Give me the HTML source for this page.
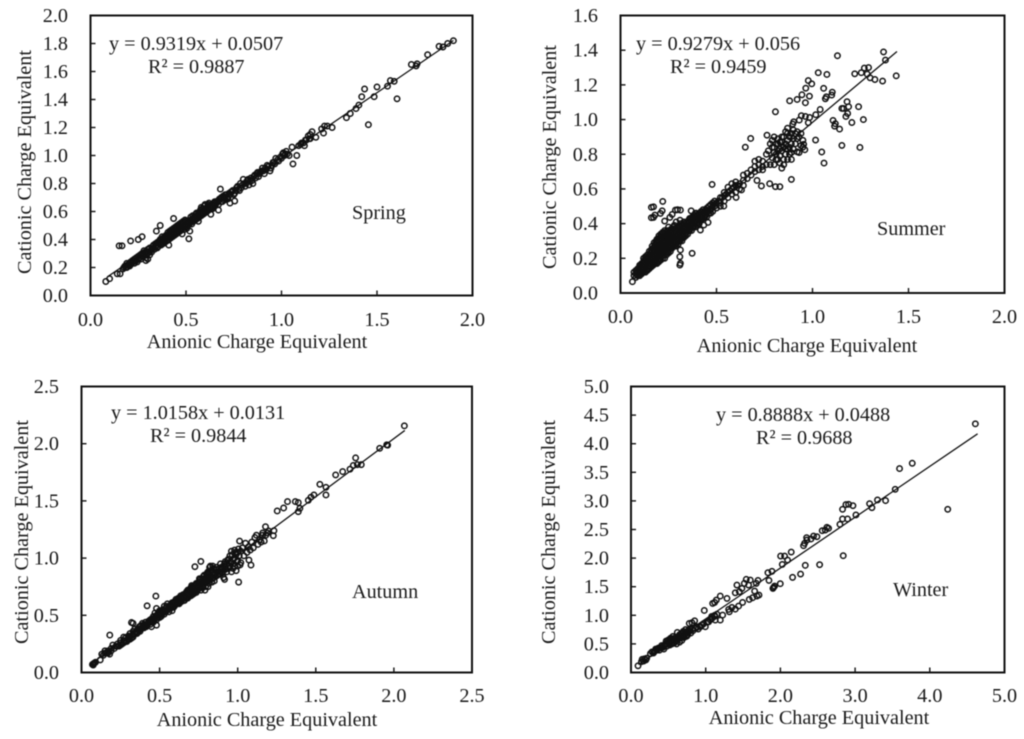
<!DOCTYPE html>
<html lang="en">
<head>
<meta charset="utf-8">
<title>Cationic vs Anionic Charge Equivalent by Season</title>
<style>
html,body{margin:0;padding:0;background:#fff}
svg{display:block;filter:blur(.4px)}
text{font-family:"Liberation Serif","Times New Roman",serif;font-size:20.2px;fill:#1a1a1a}
</style>
</head>
<body>
<svg id="figure" xmlns="http://www.w3.org/2000/svg" width="1024" height="739" viewBox="0 0 1024 739">
<rect x="0" y="0" width="1024" height="739" fill="#fff"/>
<g id="panel-spring">
<text x="257" y="348" text-anchor="middle">Anionic Charge Equivalent</text>
<text transform="translate(31,162) rotate(-90)" text-anchor="middle">Cationic Charge Equivalent</text>
<text x="109" y="50">y = 0.9319x + 0.0507</text>
<text x="148" y="73">R² = 0.9887</text>
<text x="352" y="219">Spring</text>
</g>
<g id="panel-summer">
<text x="807" y="352" text-anchor="middle">Anionic Charge Equivalent</text>
<text transform="translate(556,157) rotate(-90)" text-anchor="middle">Cationic Charge Equivalent</text>
<text x="636" y="50">y = 0.9279x + 0.056</text>
<text x="670" y="73">R² = 0.9459</text>
<text x="877" y="235">Summer</text>
</g>
<g id="panel-autumn">
<text x="267" y="726" text-anchor="middle">Anionic Charge Equivalent</text>
<text transform="translate(28,532) rotate(-90)" text-anchor="middle">Cationic Charge Equivalent</text>
<text x="111" y="419">y = 1.0158x + 0.0131</text>
<text x="150" y="442">R² = 0.9844</text>
<text x="352" y="598">Autumn</text>
</g>
<g id="panel-winter">
<text x="819" y="724" text-anchor="middle">Anionic Charge Equivalent</text>
<text transform="translate(555,532) rotate(-90)" text-anchor="middle">Cationic Charge Equivalent</text>
<text x="716" y="421">y = 0.8888x + 0.0488</text>
<text x="756" y="444">R² = 0.9688</text>
<text x="893" y="596">Winter</text>
</g>
</svg>
<script>
const springXTicks = ["0.0","0.5","1.0","1.5","2.0"];
const springYTicks = ["0.0","0.2","0.4","0.6","0.8","1.0","1.2","1.4","1.6","1.8","2.0"];
const springFit = [0.9319, 0.0507];
const springFitX = [0.09, 1.9];
const springPoints = [
[.08,.1],[.1,.12],[.14,.155],[.155,.155],[.15,.355],[.165,.355],[.21,.39],[.25,.4],[.27,.42],[.345,.46],[.365,.5],[.435,.55],[.515,.405],[.68,.76],[.67,.61],[.755,.675],[1.06,.94],[1.08,1],[1.055,1.06],[1.34,1.27],[1.36,1.3],[1.39,1.335],[1.405,1.36],[1.42,1.42],[1.435,1.475],[1.455,1.22],[1.485,1.42],[1.5,1.49],[1.555,1.495],[1.57,1.535],[1.59,1.53],[1.605,1.405],[1.68,1.65],[1.705,1.64],[1.71,1.655],[1.765,1.72],[1.825,1.78],[1.845,1.775],[1.87,1.8],[1.9,1.82],
[.17,.19],[.18,.21],[.19,.2],[.19,.23],[.2,.22],[.21,.24],[.21,.22],[.22,.25],[.23,.23],[.23,.26],[.24,.27],[.24,.25],[.25,.28],[.25,.26],[.26,.29],[.26,.27],[.27,.3],[.27,.28],[.28,.32],[.28,.3],[.29,.27],[.29,.25],[.3,.26],[.29,.31],[.3,.33],[.3,.3],[.31,.29],[.31,.34],[.32,.33],[.32,.31],[.33,.36],[.33,.34],[.34,.35],[.34,.37],[.35,.34],[.35,.38],[.35,.36],[.36,.39],[.36,.37],[.37,.38],[.37,.36],[.37,.4],[.38,.39],[.38,.41],[.38,.37],[.39,.42],[.39,.4],[.39,.38],[.4,.41],[.4,.43],[.4,.39],[.41,.36],[.41,.42],[.41,.44],[.41,.4],[.42,.43],[.42,.45],[.42,.41],[.43,.44],[.43,.46],[.43,.42],[.44,.45],[.44,.47],[.44,.43],[.45,.48],[.45,.46],[.45,.44],[.46,.47],[.46,.49],[.46,.45],[.47,.5],[.47,.48],[.47,.46],[.48,.49],[.48,.51],[.48,.44],[.49,.5],[.49,.52],[.49,.47],[.5,.51],[.5,.53],[.5,.49],[.51,.52],[.51,.5],[.52,.53],[.52,.46],[.53,.54],[.53,.51],[.54,.55],[.54,.53],[.55,.56],[.55,.54],[.55,.58],[.56,.57],[.56,.55],[.57,.59],[.57,.56],[.58,.6],[.58,.57],[.58,.63],[.59,.6],[.59,.58],[.6,.62],[.6,.59],[.6,.65],[.61,.63],[.61,.6],[.62,.64],[.62,.61],[.62,.66],[.63,.58],[.63,.63],[.64,.65],[.64,.62],[.65,.67],[.65,.64],[.66,.66],[.67,.68],[.67,.65],[.68,.69],[.69,.67],[.7,.7],[.7,.68],[.71,.72],[.72,.69],[.73,.72],[.73,.66],[.74,.74],[.75,.72],[.76,.75],[.77,.78],[.78,.75],[.79,.77],[.8,.83],[.81,.78],[.82,.82],[.83,.79],[.84,.84],[.85,.8],[.86,.86],[.87,.87],[.88,.85],[.89,.88],[.9,.91],[.91,.87],[.92,.9],[.93,.92],[.94,.89],[.95,.93],[.96,.95],[.97,.98],[.98,.97],[1,.98],[1.01,1.02],[1.02,1.01],[1.03,1.01],[1.04,1],[1.09,1.07],[1.1,1.08],[1.12,1.07],[1.13,1.11],[1.14,1.14],[1.15,1.12],[1.16,1.17],[1.18,1.13],[1.21,1.19],[1.22,1.16],[1.225,1.21],[1.24,1.21],[1.265,1.2],
[.175,.2],[.185,.2],[.195,.22],[.205,.21],[.215,.23],[.225,.24],[.235,.25],[.245,.24],[.255,.27],[.265,.26],[.275,.29],[.285,.31],[.295,.29],[.305,.31],[.315,.32],[.325,.35],[.335,.33],[.345,.36],[.355,.35],[.355,.38],[.365,.38],[.365,.4],[.375,.37],[.375,.42],[.385,.4],[.385,.38],[.395,.41],[.395,.43],[.405,.42],[.405,.4],[.405,.45],[.415,.43],[.415,.41],[.415,.46],[.425,.44],[.425,.42],[.425,.47],[.435,.45],[.435,.43],[.435,.48],[.445,.46],[.445,.44],[.445,.49],[.455,.47],[.455,.45],[.455,.5],[.465,.48],[.465,.46],[.465,.51],[.475,.49],[.475,.47],[.475,.52],[.485,.5],[.485,.48],[.485,.53],[.495,.51],[.495,.49],[.495,.54],[.505,.52],[.505,.5],[.505,.48],[.515,.53],[.515,.51],[.525,.54],[.525,.52],[.525,.56],[.535,.55],[.535,.53],[.535,.57],[.545,.56],[.545,.54],[.555,.57],[.555,.55],[.555,.59],[.565,.58],[.565,.56],[.565,.53],[.575,.59],[.575,.57],[.575,.61],[.585,.6],[.585,.58],[.585,.62],[.595,.61],[.595,.59],[.595,.64],[.605,.62],[.605,.6],[.615,.63],[.615,.65],[.625,.64],[.625,.62],[.635,.65],[.635,.62],[.645,.66],[.645,.63],[.655,.67],[.655,.65],[.665,.67],[.675,.69],[.685,.7],[.685,.67],[.695,.71],[.705,.72],[.705,.69],[.715,.7],[.725,.73],[.735,.74],[.745,.75],[.755,.73],[.765,.77],[.775,.76],[.785,.8],[.795,.79],[.805,.8],[.815,.8],[.825,.83],[.835,.82],[.845,.82],[.855,.85],[.865,.84],[.875,.88],[.885,.87],[.895,.89],[.905,.89],[.915,.91],[.925,.93],[.945,.91],[.955,.95],[.965,.94],[.985,.96],[.995,.99],[1.005,1.01],[1.015,1],[1.025,1.03],[1.105,1.09],[1.115,1.09],[1.125,1.11],[1.145,1.12],[1.15,1.15]
];

const summerXTicks = ["0.0","0.5","1.0","1.5","2.0"];
const summerYTicks = ["0.0","0.2","0.4","0.6","0.8","1.0","1.2","1.4","1.6"];
const summerFit = [0.9279, 0.056];
const summerFitX = [0.07, 1.44];
const summerPoints = [
[.062,.065],[1.37,1.39],[1.38,1.343],[1.13,1.368],[1.436,1.252],[1.365,1.222],[1.325,1.231],[1.3,1.241],[1.292,1.3],[1.27,1.297],[1.285,1.262],[1.254,1.27],[1.22,1.264],[1.03,1.27],[1.075,1.26],[.978,1.225],[.996,1.206],[.965,1.181],[1.058,1.18],[.945,1.143],[.984,1.135],[.92,1.116],[.881,1.108],[.963,1.097],[1.103,1.158],[1.1,1.141],[1.072,1.131],[1.067,1.12],[1.04,1.058],[1.017,1.028],[.807,1.045],[.942,1.022],[.963,1.018],[.985,1.012],[.931,.997],[.978,.982],[.902,.987],[.897,.974],[1.107,.995],[1.119,.976],[1.115,.962],[1.141,.945],[1.18,1.103],[1.188,1.074],[1.153,1.064],[1.162,1.064],[1.183,1.035],[1.174,1.018],[1.24,1.074],[1.205,.983],[1.265,1],[1.247,.839],[1.153,.851],[1.016,.882],[1.048,.813],[1.06,.749],[.954,.857],[.95,.841],[.96,.826],[.92,.814],[.89,.655],[.83,.613],[.807,.613],[.777,.63],[.734,.617],[.711,.649],[.477,.626],[.65,.841],[.678,.891],[.763,.91],
[.161,.494],[.172,.497],[.161,.434],[.172,.436],[.179,.449],[.208,.459],[.217,.474],[.22,.528],[.23,.415],[.257,.436],[.269,.453],[.286,.478],[.297,.48],[.312,.478],[.312,.248],[.309,.209],[.312,.171],[.309,.161],[.373,.229],[.416,.363],[.434,.392],[.456,.407],[.368,.474],[.538,.501],[.602,.551],[.63,.594],
[.07,.1],[.07,.12],[.08,.09],[.08,.11],[.08,.13],[.09,.1],[.09,.12],[.09,.14],[.1,.1],[.1,.12],[.1,.14],[.1,.16],[.11,.11],[.11,.13],[.11,.15],[.11,.17],[.12,.12],[.12,.14],[.12,.16],[.12,.18],[.12,.2],[.13,.12],[.13,.15],[.13,.17],[.13,.19],[.13,.21],[.14,.13],[.14,.15],[.14,.18],[.14,.2],[.14,.22],[.15,.14],[.15,.16],[.15,.19],[.15,.21],[.15,.24],[.16,.15],[.16,.17],[.16,.2],[.16,.22],[.16,.25],[.17,.16],[.17,.18],[.17,.21],[.17,.23],[.17,.26],[.18,.17],[.18,.2],[.18,.22],[.18,.25],[.18,.28],[.19,.17],[.19,.2],[.19,.23],[.19,.26],[.19,.29],[.19,.31],[.2,.18],[.2,.21],[.2,.24],[.2,.27],[.2,.3],[.2,.33],[.21,.19],[.21,.22],[.21,.25],[.21,.28],[.21,.31],[.21,.34],[.22,.2],[.22,.23],[.22,.26],[.22,.29],[.22,.32],[.22,.35],[.23,.2],[.23,.24],[.23,.27],[.23,.3],[.23,.33],[.23,.36],[.24,.22],[.24,.25],[.24,.28],[.24,.31],[.24,.34],[.25,.23],[.25,.26],[.25,.29],[.25,.32],[.25,.35],[.25,.38],[.26,.24],[.26,.27],[.26,.3],[.26,.33],[.26,.36],[.27,.26],[.27,.28],[.27,.31],[.27,.34],[.27,.37],[.28,.27],[.28,.3],[.28,.33],[.28,.36],[.28,.39],[.29,.27],[.29,.3],[.29,.33],[.29,.36],[.29,.41],[.3,.28],[.3,.31],[.3,.34],[.3,.37],[.31,.3],[.31,.32],[.31,.35],[.31,.38],[.31,.42],[.32,.3],[.32,.33],[.32,.36],[.32,.39],[.33,.32],[.33,.35],[.33,.38],[.33,.41],[.34,.33],[.34,.36],[.34,.39],[.35,.34],[.35,.37],[.35,.4],[.36,.36],[.36,.38],[.36,.41],[.36,.43],[.37,.36],[.37,.39],[.37,.42],[.38,.38],[.38,.4],[.38,.43],[.39,.38],[.39,.41],[.39,.44],[.39,.46],[.4,.39],[.4,.42],[.4,.45],[.41,.4],[.41,.43],[.41,.46],[.42,.42],[.42,.44],[.42,.47],[.43,.43],[.43,.46],[.43,.48],[.44,.44],[.44,.47],[.45,.44],[.45,.46],[.45,.49],[.46,.46],[.46,.5],[.47,.46],[.47,.48],[.47,.51],[.48,.47],[.48,.5],[.48,.52],[.49,.5],[.49,.53],[.5,.49],[.5,.52],[.52,.52],[.52,.55],[.52,.5],[.54,.53],[.54,.56],[.54,.58],[.56,.55],[.56,.58],[.56,.61],[.58,.57],[.58,.6],[.58,.63],[.6,.58],[.6,.62],[.6,.64],[.62,.6],[.62,.63],[.64,.62],[.64,.65],[.64,.68],[.66,.66],[.66,.69],[.68,.68],[.68,.71],[.7,.7],[.7,.73],[.7,.76],[.72,.71],[.72,.74],[.72,.77],[.74,.73],[.74,.76],[.74,.71],[.76,.74],[.76,.8],
[.77,.82],[.78,.74],[.78,.86],[.79,.78],[.79,.88],[.8,.74],[.8,.81],[.8,.84],[.81,.77],[.81,.8],[.82,.86],[.82,.89],[.83,.75],[.83,.79],[.83,.83],[.84,.72],[.84,.82],[.84,.87],[.84,.9],[.85,.77],[.85,.84],[.86,.8],[.86,.86],[.86,.93],[.87,.77],[.87,.83],[.87,.88],[.87,.92],[.88,.84],[.88,.9],[.89,.81],[.89,.86],[.9,.83],[.9,.89],[.91,.92],[.92,.89],[.92,.93],[.93,.81],[.94,.85],
[.085,.12],[.095,.11],[.095,.13],[.105,.115],[.105,.135],[.105,.155],[.115,.12],[.115,.14],[.115,.16],[.125,.13],[.125,.15],[.125,.17],[.125,.19],[.135,.13],[.135,.16],[.135,.18],[.135,.2],[.145,.14],[.145,.17],[.145,.19],[.145,.21],[.155,.15],[.155,.18],[.155,.2],[.155,.23],[.165,.16],[.165,.19],[.165,.21],[.165,.24],[.165,.27],[.175,.17],[.175,.2],[.175,.23],[.175,.26],[.175,.29],[.185,.18],[.185,.21],[.185,.24],[.185,.27],[.185,.3],[.195,.19],[.195,.22],[.195,.25],[.195,.28],[.195,.31],[.205,.2],[.205,.23],[.205,.26],[.205,.29],[.205,.32],[.215,.21],[.215,.24],[.215,.27],[.215,.3],[.215,.33],[.225,.22],[.225,.25],[.225,.28],[.225,.31],[.225,.34],[.235,.23],[.235,.26],[.235,.29],[.235,.32],[.235,.35],[.245,.24],[.245,.27],[.245,.3],[.245,.33],[.245,.36],[.255,.25],[.255,.28],[.255,.31],[.255,.34],[.265,.26],[.265,.29],[.265,.32],[.265,.35],[.265,.37],[.275,.27],[.275,.3],[.275,.32],[.275,.35],[.275,.38],[.285,.28],[.285,.31],[.285,.34],[.285,.37],[.295,.29],[.295,.32],[.295,.35],[.295,.38],[.305,.3],[.305,.33],[.305,.36],[.305,.39],[.315,.31],[.315,.34],[.315,.37],[.315,.4],[.325,.32],[.325,.35],[.325,.38],[.335,.34],[.335,.37],[.335,.4],[.345,.35],[.345,.38],[.345,.41],[.355,.36],[.355,.39],[.355,.42],[.365,.37],[.365,.4],[.365,.43],[.375,.38],[.375,.41],[.375,.44],[.385,.39],[.385,.42],[.385,.45],[.395,.4],[.395,.43],[.395,.46],[.405,.41],[.405,.44],[.415,.42],[.415,.45],[.425,.43],[.425,.46],[.435,.44],[.435,.47],[.445,.45],[.445,.48],[.455,.47],[.465,.48],[.475,.49],[.485,.51],[.51,.53],[.53,.55],[.55,.57],[.57,.59],[.59,.61],[.61,.62],
[.79,.84],[.8,.9],[.81,.86],[.82,.77],[.82,.82],[.83,.87],[.85,.9],[.85,.74],[.86,.83],[.88,.8],[.89,.92],[.89,.77],[.91,.86],[.93,.9],[.94,.92],[.95,.88],[.9,.94],[.87,.95]
];

const autumnXTicks = ["0.0","0.5","1.0","1.5","2.0","2.5"];
const autumnYTicks = ["0.0","0.5","1.0","1.5","2.0","2.5"];
const autumnFit = [1.0158, 0.0131];
const autumnFitX = [0.07, 2.07];
const autumnPoints = [
[2.067,2.156],[1.96,1.987],[1.954,1.99],[1.909,1.96],[1.755,1.876],[1.791,1.817],[1.766,1.817],[1.74,1.81],[1.719,1.777],[1.672,1.756],[1.627,1.727],[1.526,1.645],[1.565,1.619],[1.565,1.552],[1.488,1.552],[1.469,1.532],[1.452,1.505],[1.398,1.435],[1.388,1.406],[1.388,1.485],[1.369,1.494],[1.319,1.494],[1.294,1.438],[1.253,1.412],[1.232,1.24],[1.178,1.275],[1.228,1.196],[1.198,1.237],[1.18,1.2],[1.16,1.2],[1.012,1.149],[1.006,.79],[1.085,.939],[1.072,.983],[.764,.971],[.726,.925],[.476,.668],[.42,.583],[.181,.327],[.32,.437],[.33,.43],[.48,.414],[.448,.4],[.916,.814],
[.07,.07],[.075,.065],[.08,.08],[.09,.09],[.12,.11],[.13,.16],[.14,.15],[.15,.19],[.16,.17],[.17,.19],[.18,.16],[.19,.21],[.2,.24],[.21,.21],[.22,.23],[.23,.25],[.24,.23],[.25,.26],[.25,.28],[.26,.25],[.27,.31],[.27,.28],[.28,.3],[.29,.27],[.3,.32],[.3,.29],[.31,.34],[.31,.31],[.32,.3],[.33,.36],[.33,.33],[.34,.34],[.34,.38],[.35,.36],[.36,.38],[.36,.35],[.37,.4],[.37,.37],[.38,.41],[.38,.38],[.39,.4],[.39,.43],[.4,.42],[.4,.39],[.41,.44],[.41,.42],[.42,.41],[.43,.45],[.43,.43],[.44,.46],[.44,.42],[.45,.47],[.45,.45],[.46,.44],[.46,.49],[.47,.47],[.47,.52],[.48,.46],[.48,.5],[.48,.56],[.49,.52],[.49,.48],[.5,.51],[.5,.54],[.5,.48],[.51,.53],[.51,.49],[.52,.55],[.52,.52],[.53,.51],[.53,.58],[.54,.56],[.54,.53],[.55,.55],[.55,.6],[.56,.57],[.56,.53],[.57,.59],[.57,.56],[.58,.61],[.58,.58],[.58,.54],[.59,.6],[.59,.57],[.6,.62],[.6,.59],[.61,.63],[.61,.6],[.62,.65],[.62,.61],[.63,.64],[.63,.61],[.64,.66],[.64,.62],[.65,.68],[.65,.65],[.66,.67],[.66,.63],[.67,.7],[.67,.66],[.68,.72],[.68,.68],[.68,.65],[.69,.71],[.69,.67],[.7,.74],[.7,.7],[.7,.67],[.71,.75],[.71,.72],[.71,.68],[.72,.73],[.72,.69],[.73,.77],[.73,.74],[.73,.71],[.74,.75],[.74,.72],[.75,.79],[.75,.76],[.75,.73],[.76,.81],[.76,.77],[.76,.74],[.77,.78],[.77,.75],[.78,.84],[.78,.8],[.78,.76],[.79,.82],[.79,.78],[.79,.72],[.8,.86],[.8,.83],[.8,.79],[.81,.88],[.81,.84],[.81,.8],[.81,.75],[.82,.92],[.82,.86],[.82,.81],[.83,.89],[.83,.84],[.84,.93],[.84,.87],[.84,.82],[.85,.85],[.85,.8],[.86,.9],[.86,.84],[.87,.88],[.87,.85],[.88,.91],[.89,.86],[.89,.95],[.9,.9],[.9,.87],[.91,.93],[.91,.83],[.92,.97],[.92,.9],[.93,.95],[.93,.88],[.94,.99],[.94,.91],[.95,.93],[.95,1.02],[.96,1.06],[.96,.96],[.96,.88],[.97,.99],[.97,.91],[.98,1.07],[.98,1],[.98,.93],[.99,1.03],[.99,.89],[1,1.05],[1,.98],[1,.93],[1.01,1.02],[1.02,.96],[1.03,1.09],[1.04,1.02],[1.05,1.13],[1.06,1.05],[1.07,1.1],[1.08,1.07],[1.09,1.14],[1.1,1.09],[1.11,1.18],[1.12,1.2],[1.13,1.12],[1.14,1.16],[1.15,1.14],[1.16,1.22],[1.17,1.15],[1.19,1.22],
[.075,.075],[.085,.085],[.15,.17],[.17,.17],[.19,.19],[.23,.23],[.25,.24],[.27,.26],[.28,.27],[.3,.31],[.31,.29],[.33,.31],[.345,.35],[.355,.34],[.365,.37],[.375,.36],[.395,.41],[.405,.4],[.415,.4],[.425,.43],[.435,.44],[.445,.44],[.455,.46],[.465,.45],[.475,.49],[.485,.48],[.495,.5],[.505,.53],[.515,.51],[.525,.54],[.535,.53],[.545,.58],[.545,.54],[.555,.56],[.565,.58],[.575,.6],[.575,.57],[.585,.59],[.595,.62],[.595,.58],[.605,.64],[.605,.61],[.615,.62],[.625,.64],[.625,.6],[.635,.67],[.635,.63],[.645,.65],[.655,.67],[.655,.63],[.665,.69],[.665,.65],[.675,.71],[.675,.67],[.685,.7],[.685,.66],[.695,.73],[.695,.69],[.705,.76],[.705,.72],[.715,.74],[.715,.7],[.725,.76],[.725,.72],[.735,.78],[.735,.7],[.745,.77],[.745,.73],[.755,.82],[.755,.75],[.765,.79],[.765,.72],[.775,.82],[.775,.74],[.785,.85],[.785,.78],[.795,.8],[.795,.75],[.805,.87],[.805,.82],[.815,.86],[.815,.78],[.825,.93],[.825,.84],[.835,.87],[.835,.79],[.845,.91],[.845,.83],[.855,.87],[.865,.92],[.875,.86],[.885,.88],[.895,.92],[.905,.88],[.915,.95],[.925,.91],[.935,.98],[.945,.93],[.955,.97],[.965,1.03],[.975,.95],[.985,1.05],[.995,.97],[1.005,1.08],[1.015,.94],[1.02,1.06]
];

const winterXTicks = ["0.0","1.0","2.0","3.0","4.0","5.0"];
const winterYTicks = ["0.0","0.5","1.0","1.5","2.0","2.5","3.0","3.5","4.0","4.5","5.0"];
const winterFit = [0.8888, 0.0488];
const winterFitX = [0.1, 4.64];
const winterPoints = [
[.094,.117],[4.61,4.347],[4.24,2.853],[3.765,3.658],[3.595,3.565],[3.537,3.203],[3.408,3.005],[3.3,3.016],[3.225,2.882],[3.194,2.952],[3.011,2.754],[2.971,2.917],[2.913,2.94],[2.877,2.935],[2.832,2.853],[2.832,2.684],[2.899,2.684],[2.797,2.59],[2.841,2.042],[2.645,2.52],[2.623,2.538],[2.6,2.491],[2.56,2.48],[2.489,2.375],[2.444,2.386],[2.409,2.334],[2.355,2.316],[2.351,2.357],[2.324,2.258],[2.31,2.217],[2.525,1.885],[2.333,1.873],[2.27,1.721],[2.163,1.663],[2.145,2.106],[2.056,2.036],[2.003,2.036],[2.096,1.966],[2.025,1.89],[1.998,1.552],[1.922,1.511],[1.9,1.47],[1.91,1.49],[1.887,1.768],[1.833,1.744],[1.847,1.61],[1.7,1.61],[1.677,1.558],[1.597,1.616],[1.543,1.628],[1.517,1.558],[1.574,1.529],[1.418,1.529],[1.485,1.47],[1.45,1.412],[1.396,1.394],[1.655,1.424],[1.713,1.354],[1.686,1.336],[1.628,1.307],[1.583,1.278],[1.494,1.225],[1.44,1.161],[1.396,1.108],[1.351,1.138],[1.316,1.062],[1.307,1.103],[1.195,1.336],[1.285,1.295],[1.142,1.266],[1.093,1.208],[1.12,1.225],[.981,1.085],[1.227,1.004],[1.195,.916],[1.12,1],[1.128,.916],[1.084,.945],[1.04,.887],[.995,.8],[.95,.83],[.883,.788],[.852,.904],[.816,.87],[.78,.858],
[.14,.19],[.15,.23],[.17,.2],[.18,.24],[.2,.22],[.21,.25],[.26,.33],[.3,.34],[.32,.38],[.34,.4],[.36,.42],[.38,.39],[.4,.43],[.42,.45],[.44,.41],[.46,.5],[.47,.55],[.48,.46],[.5,.52],[.5,.57],[.52,.48],[.53,.6],[.54,.55],[.55,.5],[.56,.63],[.57,.57],[.58,.52],[.6,.61],[.6,.55],[.61,.5],[.62,.7],[.63,.58],[.64,.64],[.65,.53],[.66,.6],[.67,.68],[.68,.56],[.69,.63],[.7,.72],[.71,.61],[.72,.66],[.73,.75],[.74,.63],[.75,.69],[.76,.66],[.78,.72],[.79,.76],[.8,.69],[.83,.73],[.86,.77],[.9,.76],[.93,.8],[1.02,.88],[1.06,.92],[1.15,1.02],
[.28,.36],[.31,.36],[.33,.41],[.35,.39],[.37,.43],[.41,.47],[.43,.44],[.45,.47],[.47,.49],[.49,.55],[.51,.5],[.52,.58],[.53,.53],[.55,.58],[.56,.52],[.58,.6],[.59,.56],[.61,.59],[.63,.63],[.65,.66],[.67,.62],[.69,.69],[.71,.67],[.73,.7],[.75,.64],[.77,.74],[.82,.76],[.88,.8],[.97,.85],[1.08,.98],[1.12,.98]
];

const svgNS = "http://www.w3.org/2000/svg";
const INK = "#111";

function drawPanel(cfg) {
  const host = document.getElementById(cfg.id);
  const xScale = v => cfg.left + (v / cfg.xMax) * (cfg.right - cfg.left);
  const yScale = v => cfg.bottom - (v / cfg.yMax) * (cfg.bottom - cfg.top);

  const frame = document.createElementNS(svgNS, "rect");
  frame.setAttribute("x", cfg.left);
  frame.setAttribute("y", cfg.top);
  frame.setAttribute("width", cfg.right - cfg.left);
  frame.setAttribute("height", cfg.bottom - cfg.top);
  frame.setAttribute("fill", "none");
  frame.setAttribute("stroke", INK);
  frame.setAttribute("stroke-width", "2");
  
  
  host.appendChild(frame);

  cfg.xTicks.forEach(label => {
    const v = parseFloat(label);
    const tick = document.createElementNS(svgNS, "line");
    tick.setAttribute("x1", xScale(v));
    tick.setAttribute("x2", xScale(v));
    tick.setAttribute("y1", cfg.bottom);
    tick.setAttribute("y2", cfg.bottom - 5);
    tick.setAttribute("stroke", INK);
    tick.setAttribute("stroke-width", "1.4");
    
    
    host.appendChild(tick);
    const text = document.createElementNS(svgNS, "text");
    text.setAttribute("x", xScale(v));
    text.setAttribute("y", cfg.xLabelY);
    text.setAttribute("text-anchor", "middle");
    text.textContent = label;
    
    
    host.appendChild(text);
  });

  cfg.yTicks.forEach(label => {
    const v = parseFloat(label);
    const tick = document.createElementNS(svgNS, "line");
    tick.setAttribute("x1", cfg.left);
    tick.setAttribute("x2", cfg.left + 5);
    tick.setAttribute("y1", yScale(v));
    tick.setAttribute("y2", yScale(v));
    tick.setAttribute("stroke", INK);
    tick.setAttribute("stroke-width", "1.4");
    
    
    host.appendChild(tick);
    const text = document.createElementNS(svgNS, "text");
    text.setAttribute("x", cfg.yLabelX);
    text.setAttribute("y", yScale(v) + 6.5);
    text.setAttribute("text-anchor", "end");
    text.textContent = label;
    
    
    host.appendChild(text);
  });

  const fitLine = document.createElementNS(svgNS, "line");
  fitLine.setAttribute("x1", xScale(cfg.fitX[0]));
  fitLine.setAttribute("y1", yScale(cfg.fit[0] * cfg.fitX[0] + cfg.fit[1]));
  fitLine.setAttribute("x2", xScale(cfg.fitX[1]));
  fitLine.setAttribute("y2", yScale(cfg.fit[0] * cfg.fitX[1] + cfg.fit[1]));
  fitLine.setAttribute("stroke", INK);
  fitLine.setAttribute("stroke-width", "1.3");
  
  
  host.appendChild(fitLine);

  cfg.points.forEach(p => {
    const dot = document.createElementNS(svgNS, "circle");
    dot.setAttribute("cx", xScale(p[0]));
    dot.setAttribute("cy", yScale(p[1]));
    dot.setAttribute("r", "2.7");
    dot.setAttribute("fill", "none");
    dot.setAttribute("stroke", INK);
    dot.setAttribute("stroke-width", "1.5");
    
    
    host.appendChild(dot);
  });
}

drawPanel({id:"panel-spring",left:90.5,right:472.5,top:15.5,bottom:295.5,xMax:2,yMax:2,xLabelY:326,yLabelX:68,xTicks:springXTicks,yTicks:springYTicks,fit:springFit,fitX:springFitX,points:springPoints});
drawPanel({id:"panel-summer",left:620.5,right:1004.5,top:15.5,bottom:293,xMax:2,yMax:1.6,xLabelY:323,yLabelX:598,xTicks:summerXTicks,yTicks:summerYTicks,fit:summerFit,fitX:summerFitX,points:summerPoints});
drawPanel({id:"panel-autumn",left:81.5,right:472,top:386.5,bottom:672.5,xMax:2.5,yMax:2.5,xLabelY:702,yLabelX:59,xTicks:autumnXTicks,yTicks:autumnYTicks,fit:autumnFit,fitX:autumnFitX,points:autumnPoints});
drawPanel({id:"panel-winter",left:631,right:1004.5,top:386.5,bottom:672.5,xMax:5,yMax:5,xLabelY:702,yLabelX:609,xTicks:winterXTicks,yTicks:winterYTicks,fit:winterFit,fitX:winterFitX,points:winterPoints});
</script>
</body>
</html>
